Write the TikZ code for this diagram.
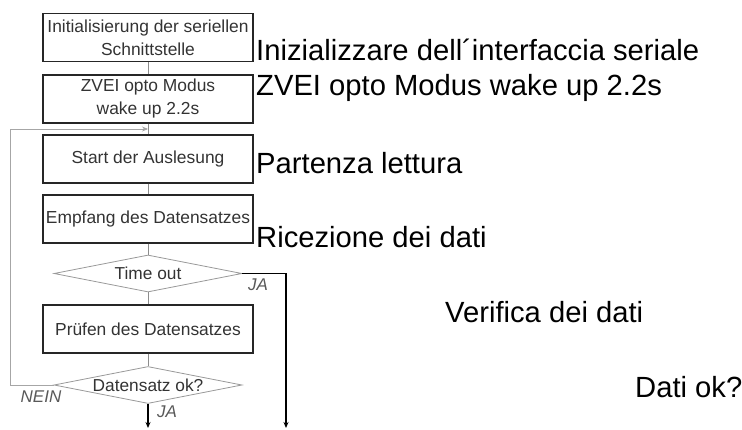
\documentclass[tikz,border=0pt]{standalone}
\usepackage{fontspec}
\setmainfont{Liberation Sans}
\usetikzlibrary{shapes.geometric,arrows.meta,calc}
\begin{document}
\begin{tikzpicture}[x=1pt,y=-1pt,
  stepbox/.style={draw=black!85,line width=1.3pt,minimum width=210pt,minimum height=48pt,inner sep=0pt,
    align=center,text=black!80,font=\fontsize{17.4}{23}\selectfont},
  decision/.style={diamond,draw=black!40,line width=0.8pt,minimum width=188pt,minimum height=37pt,inner sep=0pt,
    aspect=6,text=black!80,font=\fontsize{17.3}{18}\selectfont},
  conn/.style={draw=black!45,line width=0.8pt},
  loopline/.style={draw=black!35,line width=0.9pt,-{Stealth[length=6pt,width=5pt,fill=black]}},
  outline/.style={draw=black,line width=1.1pt,-{Stealth[length=6pt,width=5pt]}},
  ann/.style={anchor=west,inner sep=0pt,font=\fontsize{29.2}{34}\selectfont},
  lab/.style={inner sep=0pt,font=\fontsize{17}{19}\selectfont\itshape,text=black!65}]
\useasboundingbox (0,0) rectangle (742,430);
\node[stepbox] (b1) at (148,37.5) {Initialisierung der seriellen\\Schnittstelle};
\node[stepbox] (b2) at (148,99) {ZVEI opto Modus\\wake up 2.2s};
\node[stepbox] (b3) at (148,159) {Start der Auslesung};
\node[stepbox] (b4) at (148,219) {Empfang des Datensatzes};
\node[decision] (d1) at (148,273.5) {Time out};
\node[stepbox] (b5) at (148,329) {Prüfen des Datensatzes};
\node[decision] (d2) at (148,385) {Datensatz ok?};
\coordinate (m) at ($(b2.south)!0.5!(b3.north)$);
\coordinate (lt) at (10,385);
\coordinate (lb) at (10,129);
\coordinate (rt) at (286,273.5);
\coordinate (rb) at (286,428);
\coordinate (db) at (148,428);
\draw[conn] (b1) -- (b2);
\draw[conn] (b2) -- (b3);
\draw[conn] (b3) -- (b4);
\draw[conn] (b4) -- (d1);
\draw[conn] (d1) -- (b5);
\draw[conn] (b5) -- (d2);
\draw[loopline] (d2.west) -- (lt) -- (lb) -- (m);
\draw[outline] (d1.east) -- (rt) -- (rb);
\draw[outline] (d2.south) -- (db);
\node[lab] (ja1) at (258,285) {JA};
\node[lab] (ja2) at (167,412) {JA};
\node[lab] (nein) at (41,397) {NEIN};
\node[ann] (t1) at (256,50) {Inizializzare dell´interfaccia seriale};
\node[ann] (t2) at (256,88) {ZVEI opto Modus wake up 2.2s};
\node[ann] (t3) at (256,163) {Partenza lettura};
\node[ann] (t4) at (256,237) {Ricezione dei dati};
\node[ann] (t5) at (445,312) {Verifica dei dati};
\node[ann] (t6) at (635,387) {Dati ok?};
\end{tikzpicture}
\end{document}
